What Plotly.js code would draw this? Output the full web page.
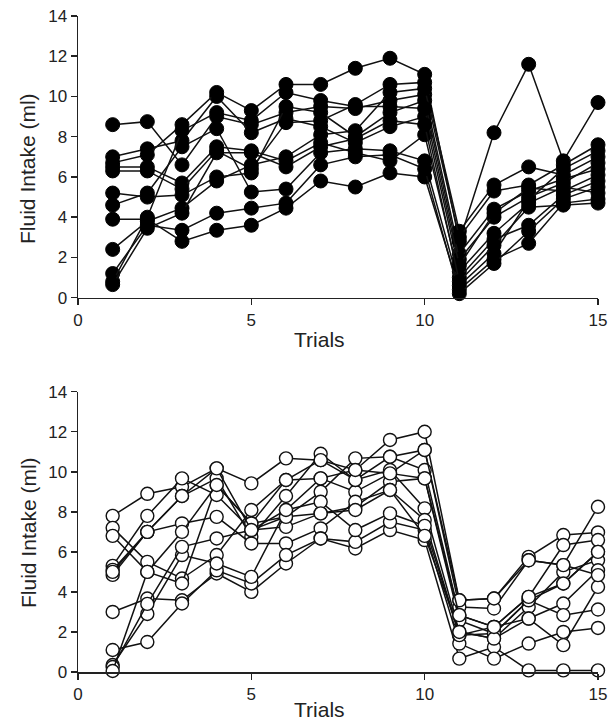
<!DOCTYPE html>
<html>
<head>
<meta charset="utf-8">
<script src="https://cdn.plot.ly/plotly-3.0.1.min.js"></script>
<style>html,body{margin:0;padding:0;background:#fff;}#chart{width:615px;height:721px;}</style>
</head>
<body>
<div id="chart"></div>
<script>
// Trials
const trials = [1,2,3,4,5,6,7,8,9,10,11,12,13,14,15];

// Top panel (filled circles): one array per animal
const topS0  = [8.6, 8.75, 6.6, 9.0, 8.6, 9.2, 9.5, 9.4, 9.8, 10.1, 2.2, 4.4, 5.3, 5.9, 6.4];
const topS1  = [7.0, 7.4, 7.8, 10.0, 8.2, 8.9, 8.5, 7.7, 8.5, 9.0, 1.3, 3.2, 4.7, 5.5, 5.2];
const topS2  = [6.7, 7.1, 8.6, 10.2, 9.3, 10.6, 10.6, 11.4, 11.9, 11.1, 2.8, 8.2, 11.6, 6.8, 9.7];
const topS3  = [6.5, 6.5, 5.7, 7.5, 7.3, 6.8, 7.7, 7.2, 6.8, 8.1, 1.0, 2.9, 3.6, 5.1, 5.8];
const topS4  = [6.3, 6.3, 5.4, 7.3, 6.4, 8.7, 8.8, 9.6, 10.6, 10.7, 3.3, 5.6, 6.5, 6.1, 7.0];
const topS5  = [5.2, 5.0, 5.1, 6.0, 6.2, 9.5, 9.2, 8.0, 9.2, 9.8, 1.9, 4.0, 5.0, 5.7, 6.7];
const topS6  = [4.6, 5.2, 7.5, 8.4, 5.25, 5.4, 7.2, 7.4, 7.3, 6.8, 0.6, 2.2, 4.85, 6.4, 7.3];
const topS7  = [3.9, 3.9, 2.8, 3.35, 3.6, 4.45, 5.8, 5.5, 6.2, 6.0, 0.4, 1.9, 2.7, 4.7, 4.9];
const topS8  = [2.4, 3.8, 4.45, 5.8, 6.6, 7.0, 8.1, 8.3, 10.2, 10.4, 3.0, 5.3, 5.6, 6.6, 7.6];
const topS9  = [1.2, 3.6, 3.35, 4.2, 4.45, 4.7, 6.6, 7.0, 7.1, 6.4, 0.2, 1.7, 3.3, 4.9, 5.5];
const topS10 = [0.8, 4.0, 8.3, 9.2, 8.8, 10.2, 9.8, 9.5, 9.5, 9.4, 1.6, 4.2, 5.45, 5.3, 6.1];
const topS11 = [0.65, 3.45, 4.2, 7.2, 7.2, 6.5, 7.5, 7.9, 8.8, 8.6, 0.8, 2.6, 4.5, 4.6, 4.7];

// Bottom panel (open circles): one array per animal
const botS0  = [7.8, 8.9, 9.25, 10.17, 9.42, 10.67, 10.58, 10.09, 11.59, 12.0, 3.58, 3.67, 5.75, 6.84, 6.97];
const botS1  = [7.2, 5.5, 4.67, 5.84, 8.09, 9.59, 9.67, 9.0, 9.92, 11.09, 3.25, 3.17, 5.58, 5.34, 8.25];
const botS2  = [6.8, 5.0, 4.42, 9.34, 7.42, 7.75, 9.0, 10.67, 10.75, 10.09, 2.84, 2.25, 3.75, 6.34, 6.59];
const botS3  = [5.3, 7.8, 9.67, 8.84, 7.09, 7.25, 7.92, 8.25, 9.5, 9.67, 2.58, 1.92, 3.58, 4.42, 6.0];
const botS4  = [5.1, 7.0, 8.79, 9.67, 6.75, 8.79, 10.9, 9.59, 10.09, 8.17, 2.0, 1.67, 3.25, 5.0, 5.58];
const botS5  = [4.85, 7.0, 7.42, 7.75, 6.42, 6.42, 7.17, 8.5, 9.09, 7.59, 1.84, 2.25, 2.67, 3.42, 5.08];
const botS6  = [3.0, 3.67, 3.58, 4.92, 4.0, 5.42, 6.67, 6.17, 7.09, 6.59, 0.67, 1.25, 0.08, 0.08, 0.08];
const botS7  = [1.1, 1.5, 3.42, 5.08, 4.42, 5.84, 6.67, 6.5, 7.5, 7.09, 1.42, 0.67, 1.42, 2.0, 2.2];
const botS8  = [0.35, 2.9, 5.84, 5.42, 4.75, 8.09, 8.5, 7.09, 7.92, 7.3, 1.84, 1.92, 3.58, 2.84, 3.12];
const botS9  = [0.25, 3.4, 6.25, 6.67, 7.09, 7.75, 7.92, 8.09, 9.09, 6.8, 2.0, 1.67, 2.67, 1.34, 4.25];
const botS10 = [0.05, 5.0, 7.0, 9.34, 7.42, 9.59, 10.58, 9.59, 10.75, 11.09, 3.58, 3.67, 5.58, 5.34, 4.84];
const botS11 = [5.0, 7.0, 8.79, 10.17, 7.09, 8.09, 9.67, 10.09, 9.92, 9.67, 2.84, 2.25, 3.75, 4.42, 6.0];

const topSeries = [topS0, topS1, topS2, topS3, topS4, topS5, topS6, topS7, topS8, topS9, topS10, topS11];
const botSeries = [botS0, botS1, botS2, botS3, botS4, botS5, botS6, botS7, botS8, botS9, botS10, botS11];

const xTickVals = [0, 5, 10, 15];
const yTickVals = [0, 2, 4, 6, 8, 10, 12, 14];
const xTitle = 'Trials';
const yTitle = 'Fluid Intake (ml)';

const traces = [];
topSeries.forEach(s => traces.push({
  x: trials, y: s, xaxis: 'x', yaxis: 'y', type: 'scatter', mode: 'lines+markers',
  line: {color: '#111', width: 1.5},
  marker: {symbol: 'circle', size: 14, color: '#000', line: {color: '#000', width: 1}},
  cliponaxis: false, showlegend: false, hoverinfo: 'skip'
}));
botSeries.forEach(s => traces.push({
  x: trials, y: s, xaxis: 'x2', yaxis: 'y2', type: 'scatter', mode: 'lines+markers',
  line: {color: '#111', width: 1.5},
  marker: {symbol: 'circle', size: 13, color: '#fff', line: {color: '#111', width: 1.4}},
  cliponaxis: false, showlegend: false, hoverinfo: 'skip'
}));

const fontFam = '"Liberation Sans", Arial, Helvetica, sans-serif';
function xax(anchor) {
  return {
    anchor: anchor, domain: [0, 1], range: [0, 15], tickvals: xTickVals, ticktext: xTickVals.map(String),
    showgrid: false, zeroline: false, showline: true, linecolor: '#222', linewidth: 1.5,
    ticks: 'outside', ticklen: 6, tickwidth: 1.5, tickcolor: '#222',
    tickfont: {family: fontFam, size: 17, color: '#222'}
  };
}
function yax(anchor, domain) {
  return {
    anchor: anchor, domain: domain, range: [0, 14], tickvals: yTickVals, ticktext: yTickVals.map(String),
    showgrid: false, zeroline: false, showline: true, linecolor: '#222', linewidth: 1.5,
    ticks: 'outside', ticklen: 6, tickwidth: 1.5, tickcolor: '#222',
    tickfont: {family: fontFam, size: 17, color: '#222'}
  };
}

const titleFont = {family: fontFam, size: 21, color: '#222'};
const layout = {
  width: 615, height: 721,
  margin: {l: 78, r: 17, t: 16, b: 49},
  paper_bgcolor: '#fff', plot_bgcolor: '#fff',
  xaxis: xax('y'),
  yaxis: yax('x', [0.5706, 1]),
  xaxis2: xax('y2'),
  yaxis2: yax('x2', [0, 0.4273]),
  showlegend: false,
  annotations: [
    {text: xTitle, xref: 'paper', yref: 'paper', x: 0.465, y: 0.5069, xanchor: 'center', yanchor: 'middle', showarrow: false, font: titleFont},
    {text: xTitle, xref: 'paper', yref: 'paper', x: 0.465, y: -0.0572, xanchor: 'center', yanchor: 'middle', showarrow: false, font: titleFont},
    {text: yTitle, xref: 'paper', yref: 'paper', x: -0.0962, y: 0.7683, xanchor: 'center', yanchor: 'middle', textangle: -90, showarrow: false, font: titleFont},
    {text: yTitle, xref: 'paper', yref: 'paper', x: -0.0962, y: 0.2134, xanchor: 'center', yanchor: 'middle', textangle: -90, showarrow: false, font: titleFont}
  ]
};

Plotly.newPlot('chart', traces, layout, {staticPlot: true, displayModeBar: false});
</script>
</body>
</html>
